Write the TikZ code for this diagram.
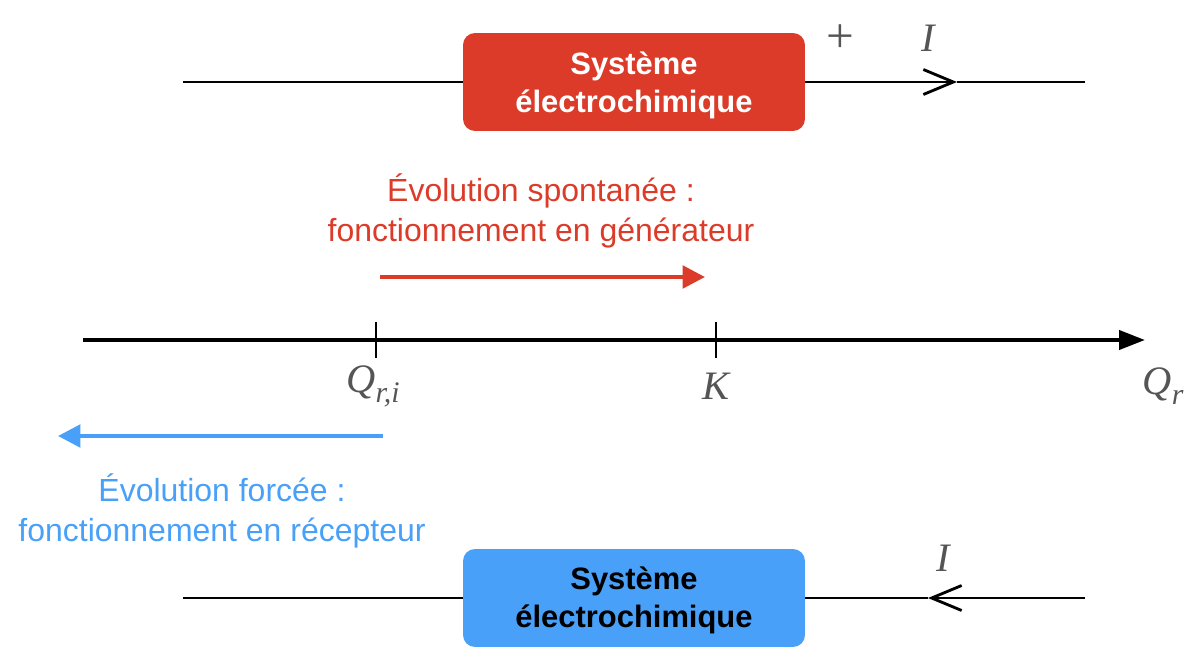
\documentclass[tikz,border=0pt]{standalone}
\usepackage{fontspec}
\setmainfont{Liberation Sans}
\newfontfamily\labfont{Liberation Serif}
\usetikzlibrary{arrows.meta}
\definecolor{redbox}{HTML}{DB3B28}
\definecolor{bluebox}{HTML}{48A0F8}
\definecolor{labgray}{HTML}{555555}
\begin{document}
\begin{tikzpicture}[x=0.02cm,y=-0.02cm,
  sysbox/.style={rounded corners=0.24cm, minimum width=6.84cm, minimum height=1.96cm, inner sep=0pt},
  systext/.style={align=center, inner sep=0pt, font=\fontsize{17.6}{21.5}\selectfont\bfseries},
  wire/.style={line width=1.6pt},
  caption/.style={align=center, font=\fontsize{18.2}{22.7}\selectfont},
  mathlab/.style={text=labgray, inner sep=0pt, font=\labfont\fontsize{23}{26}\selectfont\itshape},
  evol/.style={line width=2.3pt, -{Triangle[length=0.45cm,width=0.45cm]}},
  tick/.style={line width=1pt},
  barb/.style={-{Straight Barb[length=0.6cm,width=0.5cm,line width=1.6pt]}}
]
\useasboundingbox (0,0) rectangle (1198,659);

% top circuit
\coordinate (tl) at (183,82);
\coordinate (tr) at (1085,82);
\coordinate (tI) at (957,82);
\node[sysbox, fill=redbox] (boxR) at (634,82) {};
\node[systext, text=white] (txtR) at (634,85) {Système\\électrochimique};
\draw[wire] (tl) -- (boxR.west);
\draw[wire, barb] (boxR.east) -- (tI);
\draw[wire] (tI) -- (tr);
\node[text=labgray, inner sep=0pt, font=\labfont\fontsize{28}{30}\selectfont] (plus) at (840,39) {+};
\node[mathlab] (Itop) at (928,38) {I};

% red caption and arrow
\node[caption, text=redbox] (capR) at (541,211) {Évolution spontanée :\\fonctionnement en générateur};
\coordinate (rA) at (380,277);
\coordinate (rB) at (705,277);
\draw[evol, redbox] (rA) -- (rB);

% axis
\coordinate (ax0) at (83,340);
\coordinate (ax1) at (1145,340);
\draw[line width=2.3pt, -{Triangle[length=0.52cm,width=0.38cm]}] (ax0) -- (ax1);
\coordinate (t1a) at (376,322);
\coordinate (t1b) at (376,358);
\coordinate (t2a) at (716,322);
\coordinate (t2b) at (716,358);
\draw[tick] (t1a) -- (t1b);
\draw[tick] (t2a) -- (t2b);
\node[mathlab] (Qri) at (373,386) {Q\raisebox{-0.25em}{\fontsize{17}{18}\selectfont r,i}};
\node[mathlab] (K) at (716,386) {K};
\node[mathlab] (Qr) at (1163,386) {Q\raisebox{-0.25em}{\fontsize{17}{18}\selectfont r}};

% blue arrow and caption
\coordinate (bA) at (383,436);
\coordinate (bB) at (58,436);
\draw[evol, bluebox] (bA) -- (bB);
\node[caption, text=bluebox] (capB) at (222,511) {Évolution forcée :\\fonctionnement en récepteur};

% bottom circuit
\coordinate (bl) at (183,598);
\coordinate (br) at (1085,598);
\coordinate (bI) at (928,598);
\node[sysbox, fill=bluebox] (boxB) at (634,598) {};
\node[systext, text=black] (txtB) at (634,600) {Système\\électrochimique};
\draw[wire] (bl) -- (boxB.west);
\draw[wire, barb] (br) -- (bI);
\draw[wire] (bI) -- (boxB.east);
\node[mathlab] (Ibot) at (943,558) {I};
\end{tikzpicture}
\end{document}
